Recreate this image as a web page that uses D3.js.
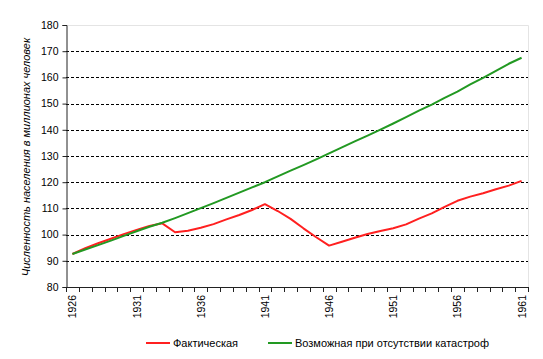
<!DOCTYPE html>
<html>
<head>
<meta charset="utf-8">
<script src="https://cdn.jsdelivr.net/npm/d3@7"></script>
<style>
body { margin: 0; background: #fff; }
text { font-family: Arial, "Liberation Sans", sans-serif; fill: #000; }
</style>
</head>
<body>
<div id="chart"></div>
<script>
// years 1926..1961
var years = d3.range(1926, 1962);
// actual population, millions
var actual = [92.6, 94.8, 96.7, 98.4, 100.2, 101.8, 103.3, 104.3, 100.9, 101.5,
  102.6, 104.0, 105.8, 107.5, 109.4, 111.6, 109.0, 106.0, 102.4, 99.0,
  95.8, 97.3, 98.8, 100.2, 101.4, 102.4, 103.9, 106.1, 108.1, 110.6,
  112.9, 114.5, 115.8, 117.3, 118.7, 120.5];
// possible without catastrophes
var possible = [92.6, 94.3, 96.0, 97.7, 99.5, 101.3, 103.0, 104.5, 106.3, 108.2,
  110.1, 112.0, 114.0, 116.0, 118.0, 120.0, 122.2, 124.4, 126.5, 128.7,
  131.0, 133.3, 135.6, 137.8, 140.1, 142.4, 144.8, 147.3, 149.6, 152.2,
  154.6, 157.3, 159.8, 162.5, 165.2, 167.5];
var yTicks = [80, 90, 100, 110, 120, 130, 140, 150, 160, 170, 180];
var seriesNames = ["Фактическая", "Возможная при отсутствии катастроф"];
var seriesColors = ["#ff2020", "#229922"];

// plot box (note: "top" is taken by window.top)
var W = 543, H = 359;
var pL = 66, pR = 528, pT = 25, pB = 287;

var svg = d3.select("#chart").append("svg")
  .attr("width", W).attr("height", H);

var x = d3.scaleBand().domain(years).range([pL, pR]);
var y = d3.scaleLinear().domain([80, 180]).range([pB, pT]);

// grid
svg.append("g").selectAll("line")
  .data(yTicks.filter(d => d > 80 && d < 180))
  .enter().append("line")
  .attr("x1", pL).attr("x2", pR)
  .attr("y1", d => Math.round(y(d)) + 0.5).attr("y2", d => Math.round(y(d)) + 0.5)
  .attr("stroke", "#000").attr("stroke-dasharray", "3,2");

// plot border (light)
svg.append("path")
  .attr("d", `M${pL},${pT + 0.5}H${pR + 0.5}V${pB}`)
  .attr("fill", "none").attr("stroke", "#e4e4e4");

// y axis
var yAxis = d3.axisLeft(y).tickValues(yTicks).tickSize(4).tickPadding(4);
var gy = svg.append("g").attr("transform", `translate(${pL + 0.5},0)`).call(yAxis);
gy.select(".domain").attr("stroke", "#222");
gy.selectAll(".tick line").attr("stroke", "#222");
gy.selectAll("text").style("font-size", "10.5px").style("font-family", "Arial, 'Liberation Sans', sans-serif");

// x axis: ticks at category boundaries
svg.append("line")
  .attr("x1", pL).attr("x2", pR + 0.5)
  .attr("y1", pB + 0.5).attr("y2", pB + 0.5)
  .attr("stroke", "#222");
var bounds = years.map(d => x(d)).concat([pR]);
svg.append("g").selectAll("line")
  .data(bounds).enter().append("line")
  .attr("x1", d => Math.round(d) + 0.5).attr("x2", d => Math.round(d) + 0.5)
  .attr("y1", pB).attr("y2", pB + 5)
  .attr("stroke", "#222");
svg.append("g").selectAll("text")
  .data(years.filter((d, i) => i % 5 === 0))
  .enter().append("text")
  .attr("transform", d => `translate(${x(d) + x.bandwidth() / 2 + 4},${pB + 8}) rotate(-90)`)
  .attr("text-anchor", "end")
  .style("font-size", "10.5px")
  .text(d => d);

// y title
svg.append("text")
  .attr("transform", "translate(30,157) rotate(-90)")
  .attr("text-anchor", "middle")
  .style("font-size", "11px").style("font-style", "italic")
  .text("Численность населения в миллионах человек");

// lines
var line = d3.line()
  .x((d, i) => x(years[i]) + x.bandwidth() / 2)
  .y(d => y(d));
[actual, possible].forEach(function(s, k) {
  svg.append("path").datum(s)
    .attr("d", line)
    .attr("fill", "none")
    .attr("stroke", seriesColors[k])
    .attr("stroke-width", 2)
    .attr("stroke-linejoin", "round");
});

// legend
var legX = [146, 268];
seriesNames.forEach(function(n, k) {
  var g = svg.append("g").attr("transform", `translate(${legX[k]},343)`);
  g.append("line").attr("x1", 0).attr("x2", 24).attr("y1", 0).attr("y2", 0)
    .attr("stroke", seriesColors[k]).attr("stroke-width", 2);
  g.append("text").attr("x", 27).attr("y", 4).style("font-size", "11px").text(n);
});
</script>
</body>
</html>
